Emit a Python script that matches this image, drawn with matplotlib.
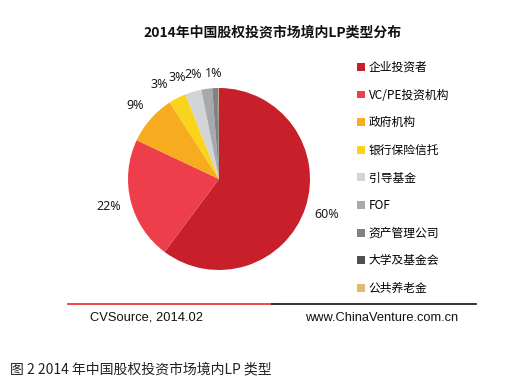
import matplotlib
matplotlib.use("Agg")
from matplotlib import pyplot as plt
from matplotlib.lines import Line2D
from matplotlib.patches import Patch
import numpy as np

plt.rcParams['font.family'] = ['Noto Sans CJK SC', 'DejaVu Sans']

# 数据
categories = ['企业投资者', 'VC/PE投资机构', '政府机构', '银行保险信托', '引导基金',
              'FOF', '资产管理公司', '大学及基金会', '公共养老金']
shares = [60.2, 21.8, 8.9, 3.1, 2.9, 1.9, 0.9, 0.2, 0.1]
colors = ['#C8202A', '#EE3E4B', '#F6AC1E', '#FAD31C', '#D3D4D6',
          '#A8A9AC', '#818285', '#4F4F51', '#E3B673']

title = '2014年中国股权投资市场境内LP类型分布'
source = 'CVSource, 2014.02'
site = 'www.ChinaVenture.com.cn'
caption = '图 2 2014 年中国股权投资市场境内LP 类型'

fig = plt.figure(figsize=(5.23, 3.91), dpi=100)
fig.patch.set_facecolor('white')

# 饼图 (圆心约在 219,179 px, 半径 91 px)
W, H = 523, 391
cx, cy, r = 219, 179, 91
side = 2 * r * 1.25
ax = fig.add_axes([(cx - side / 2) / W, (H - cy - side / 2) / H, side / W, side / H])

wedges, texts = ax.pie(shares, colors=colors, startangle=90, counterclock=False,
                       wedgeprops=dict(linewidth=0))
ax.set_xlim(-1.25, 1.25)
ax.set_ylim(-1.25, 1.25)

# 百分比标签, 小扇区的标签稍微错开
shift = [0, 0, 0, 5, 6, 6, 0, 0, 0]
dist = [1.25, 1.25, 1.22, 1.23, 1.21, 1.18, 1.16, 0, 0]
for w, s, d, v in zip(wedges, shift, dist, shares):
    if v < 0.5:
        continue
    ang = np.deg2rad((w.theta1 + w.theta2) / 2 + s)
    ax.text(d * np.cos(ang), d * np.sin(ang), '%.0f%%' % v, ha='center', va='center',
            fontsize=9, color='#1a1a1a', family=['Noto Sans', 'DejaVu Sans'])

# 图例
handles = [Patch(facecolor=c, edgecolor='none') for c in colors]
fig.legend(handles, categories, loc='upper left', bbox_to_anchor=(357 / W, 1 - 61 / H),
           frameon=False, fontsize=8.5, handlelength=0.65, handleheight=0.65,
           handletextpad=0.35, labelspacing=1.24, borderaxespad=0, borderpad=0)

fig.text(273 / W, 1 - 33 / H, title, ha='center', va='center', fontsize=10,
         fontweight='bold', color='#111111')

# 底部分隔线和来源
fig.add_artist(Line2D([68 / W, 272 / W], [1 - 304 / H] * 2, color='#E8262C', lw=1.2))
fig.add_artist(Line2D([272 / W, 476 / W], [1 - 304 / H] * 2, color='#111111', lw=1.2))
fig.text(90 / W, 1 - 318 / H, source, ha='left', va='center', fontsize=9.3,
         family=['Liberation Sans'], color='#111111')
fig.text(458 / W, 1 - 318 / H, site, ha='right', va='center', fontsize=9.3,
         family=['Liberation Sans'], color='#111111')

fig.text(10 / W, 1 - 369 / H, caption, ha='left', va='center', fontsize=10,
         style='italic', color='#222222')

fig.savefig('out.png', dpi=100)
